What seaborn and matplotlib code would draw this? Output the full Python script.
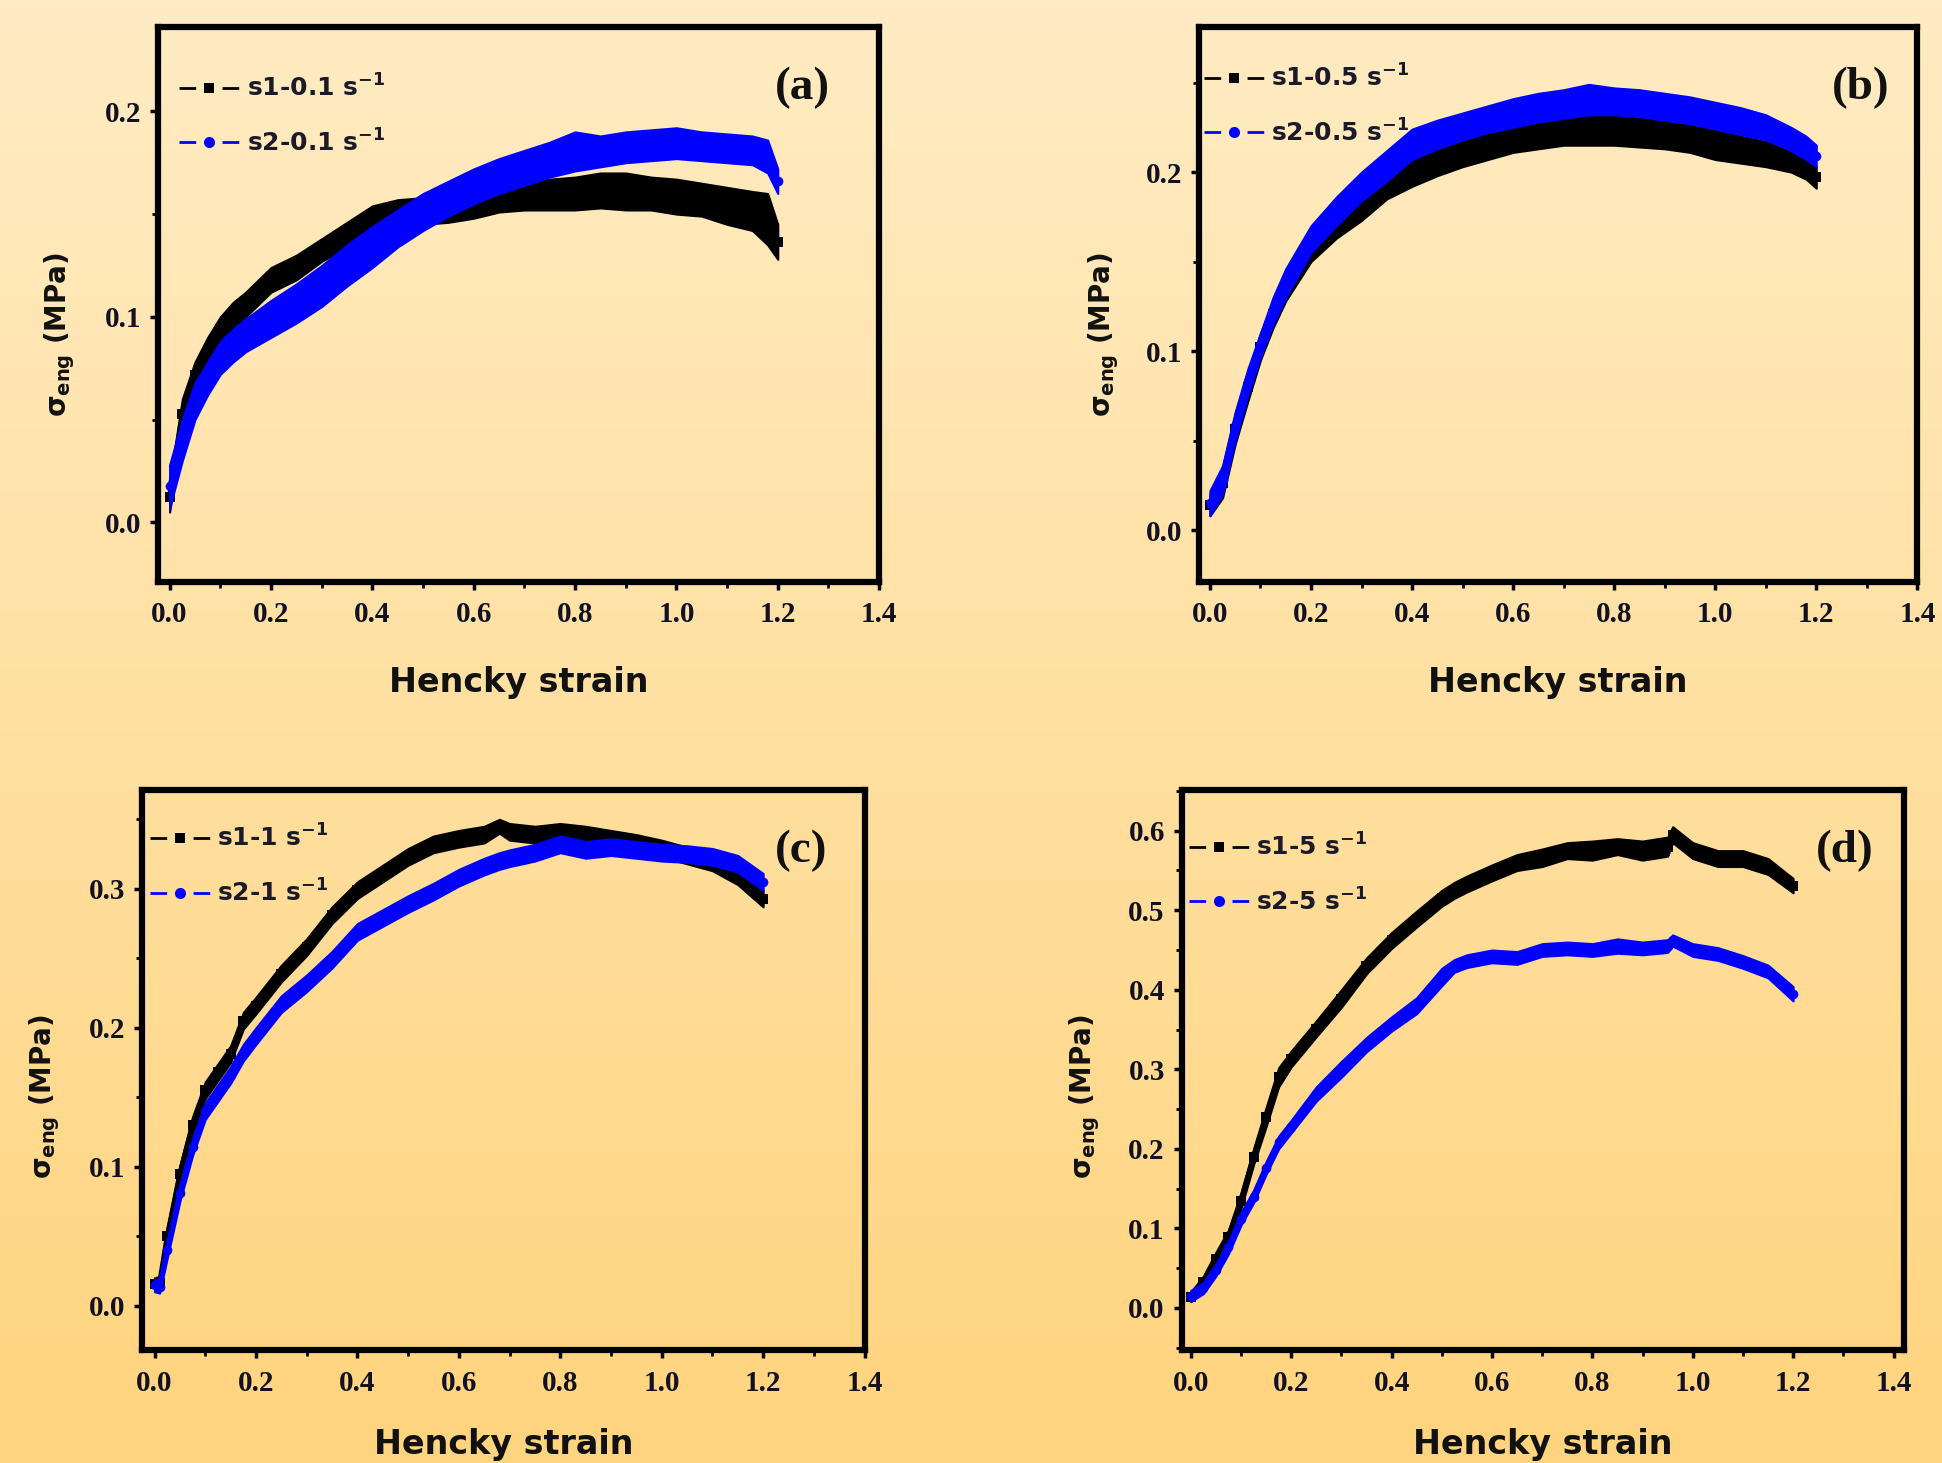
import numpy as np
import pandas as pd
import matplotlib
matplotlib.use("Agg")
import matplotlib.pyplot as plt
import seaborn as sns
from matplotlib.lines import Line2D
from matplotlib.ticker import MultipleLocator, FixedLocator

sns.set_theme(style="ticks")
plt.rcParams["font.family"] = ["DejaVu Sans"]
plt.rcParams["mathtext.fontset"] = "dejavusans"
plt.rcParams["mathtext.default"] = "bf"
plt.rcParams["lines.scale_dashes"] = False

# ---------------- data ----------------
XA = [0.0, 0.025, 0.05, 0.075, 0.1, 0.125, 0.15, 0.2, 0.25, 0.3, 0.35, 0.4, 0.45, 0.5, 0.55,
      0.6, 0.65, 0.7, 0.75, 0.8, 0.85, 0.9, 0.95, 1.0, 1.05, 1.1, 1.15, 1.18, 1.2]
A_S1_LO = [0.005, 0.045, 0.065, 0.078, 0.088, 0.095, 0.100, 0.112, 0.118, 0.127, 0.134, 0.142, 0.146, 0.145, 0.146,
           0.148, 0.151, 0.152, 0.152, 0.152, 0.153, 0.152, 0.152, 0.150, 0.149, 0.145, 0.142, 0.135, 0.128]
A_S1_HI = [0.020, 0.060, 0.078, 0.090, 0.100, 0.107, 0.112, 0.124, 0.130, 0.138, 0.146, 0.154, 0.157, 0.158, 0.158,
           0.160, 0.163, 0.165, 0.167, 0.168, 0.170, 0.170, 0.168, 0.167, 0.165, 0.163, 0.161, 0.160, 0.145]
A_S2_LO = [0.007, 0.030, 0.050, 0.062, 0.072, 0.078, 0.083, 0.090, 0.097, 0.105, 0.115, 0.124, 0.134, 0.142, 0.149,
           0.155, 0.160, 0.164, 0.168, 0.171, 0.173, 0.175, 0.176, 0.177, 0.176, 0.175, 0.174, 0.170, 0.160]
A_S2_HI = [0.028, 0.050, 0.068, 0.078, 0.088, 0.094, 0.099, 0.108, 0.116, 0.125, 0.135, 0.144, 0.152, 0.160, 0.166,
           0.172, 0.177, 0.181, 0.185, 0.190, 0.188, 0.190, 0.191, 0.192, 0.190, 0.189, 0.188, 0.186, 0.172]

XB = XA
B_S1_LO = [0.008, 0.018, 0.048, 0.072, 0.095, 0.113, 0.128, 0.150, 0.163, 0.173, 0.185, 0.192, 0.198, 0.203, 0.207,
           0.211, 0.213, 0.215, 0.215, 0.215, 0.214, 0.213, 0.211, 0.207, 0.205, 0.203, 0.200, 0.196, 0.191]
B_S1_HI = [0.020, 0.035, 0.065, 0.088, 0.110, 0.128, 0.143, 0.165, 0.180, 0.190, 0.200, 0.207, 0.212, 0.218, 0.222,
           0.226, 0.229, 0.231, 0.234, 0.232, 0.230, 0.229, 0.227, 0.224, 0.220, 0.217, 0.212, 0.208, 0.203]
B_S2_LO = [0.008, 0.020, 0.050, 0.075, 0.097, 0.115, 0.130, 0.155, 0.170, 0.184, 0.195, 0.207, 0.213, 0.218, 0.222,
           0.225, 0.228, 0.230, 0.232, 0.232, 0.231, 0.229, 0.227, 0.224, 0.221, 0.218, 0.212, 0.207, 0.203]
B_S2_HI = [0.022, 0.036, 0.066, 0.090, 0.110, 0.130, 0.146, 0.170, 0.186, 0.200, 0.212, 0.224, 0.229, 0.233, 0.237,
           0.241, 0.244, 0.246, 0.249, 0.247, 0.246, 0.244, 0.242, 0.239, 0.236, 0.232, 0.225, 0.220, 0.215]

XC = [0.0, 0.01, 0.025, 0.05, 0.075, 0.1, 0.125, 0.15, 0.175, 0.2, 0.25, 0.3, 0.35, 0.4, 0.45, 0.5,
      0.55, 0.6, 0.65, 0.68, 0.7, 0.75, 0.8, 0.85, 0.9, 0.95, 1.0, 1.05, 1.1, 1.15, 1.2]
C_S1_LO = [0.011, 0.012, 0.044, 0.089, 0.124, 0.149, 0.162, 0.175, 0.199, 0.210, 0.233, 0.252, 0.275, 0.293, 0.305, 0.317,
           0.326, 0.330, 0.333, 0.340, 0.335, 0.333, 0.335, 0.333, 0.330, 0.327, 0.323, 0.318, 0.313, 0.303, 0.287]
C_S1_HI = [0.020, 0.021, 0.056, 0.101, 0.136, 0.161, 0.174, 0.187, 0.211, 0.222, 0.245, 0.264, 0.287, 0.305, 0.317, 0.329,
           0.338, 0.342, 0.345, 0.350, 0.347, 0.345, 0.347, 0.345, 0.342, 0.339, 0.335, 0.330, 0.325, 0.315, 0.299]
C_S2_LO = [0.010, 0.009, 0.034, 0.075, 0.108, 0.134, 0.147, 0.160, 0.176, 0.188, 0.211, 0.226, 0.243, 0.263, 0.273, 0.283,
           0.292, 0.302, 0.310, 0.314, 0.316, 0.320, 0.326, 0.322, 0.324, 0.322, 0.320, 0.319, 0.317, 0.312, 0.299]
C_S2_HI = [0.019, 0.018, 0.046, 0.087, 0.120, 0.146, 0.159, 0.172, 0.188, 0.200, 0.223, 0.238, 0.255, 0.275, 0.285, 0.295,
           0.304, 0.314, 0.322, 0.326, 0.328, 0.332, 0.338, 0.334, 0.336, 0.334, 0.332, 0.331, 0.329, 0.324, 0.311]

XD = [0.0, 0.025, 0.05, 0.075, 0.1, 0.125, 0.15, 0.175, 0.2, 0.25, 0.3, 0.35, 0.4, 0.45, 0.5, 0.525,
      0.55, 0.6, 0.65, 0.7, 0.75, 0.8, 0.85, 0.9, 0.95, 0.96, 1.0, 1.05, 1.1, 1.15, 1.2]
D_S1_LO = [0.008, 0.024, 0.052, 0.080, 0.125, 0.180, 0.228, 0.278, 0.303, 0.341, 0.378, 0.420, 0.452, 0.479, 0.505, 0.515,
           0.523, 0.537, 0.550, 0.555, 0.565, 0.563, 0.570, 0.563, 0.568, 0.585, 0.565, 0.555, 0.555, 0.545, 0.522]
D_S1_HI = [0.020, 0.040, 0.070, 0.098, 0.145, 0.200, 0.252, 0.302, 0.323, 0.361, 0.400, 0.440, 0.472, 0.499, 0.525, 0.535,
           0.543, 0.557, 0.570, 0.577, 0.585, 0.587, 0.590, 0.587, 0.592, 0.605, 0.585, 0.575, 0.575, 0.565, 0.540]
D_S2_LO = [0.008, 0.018, 0.040, 0.068, 0.104, 0.132, 0.168, 0.200, 0.220, 0.260, 0.290, 0.322, 0.348, 0.370, 0.405, 0.422,
           0.428, 0.434, 0.432, 0.442, 0.444, 0.442, 0.446, 0.444, 0.447, 0.455, 0.442, 0.437, 0.427, 0.415, 0.386]
D_S2_HI = [0.022, 0.032, 0.055, 0.084, 0.120, 0.148, 0.184, 0.216, 0.236, 0.278, 0.310, 0.340, 0.366, 0.390, 0.427, 0.438,
           0.444, 0.450, 0.448, 0.458, 0.460, 0.458, 0.464, 0.460, 0.463, 0.469, 0.458, 0.453, 0.443, 0.431, 0.404]

LABELS_A = ["s1-0.1 s$^{-1}$", "s2-0.1 s$^{-1}$"]
LABELS_B = ["s1-0.5 s$^{-1}$", "s2-0.5 s$^{-1}$"]
LABELS_C = ["s1-1 s$^{-1}$", "s2-1 s$^{-1}$"]
LABELS_D = ["s1-5 s$^{-1}$", "s2-5 s$^{-1}$"]
PANEL_TAGS = ["(a)", "(b)", "(c)", "(d)"]

X_TICKS = [0.0, 0.2, 0.4, 0.6, 0.8, 1.0, 1.2, 1.4]
X_TICKLABELS = ["0.0", "0.2", "0.4", "0.6", "0.8", "1.0", "1.2", "1.4"]
Y_TICKS_AB = [0.0, 0.1, 0.2]
Y_TICKLABELS_AB = ["0.0", "0.1", "0.2"]
Y_TICKS_C = [0.0, 0.1, 0.2, 0.3]
Y_TICKLABELS_C = ["0.0", "0.1", "0.2", "0.3"]
Y_TICKS_D = [0.0, 0.1, 0.2, 0.3, 0.4, 0.5, 0.6]
Y_TICKLABELS_D = ["0.0", "0.1", "0.2", "0.3", "0.4", "0.5", "0.6"]

X_LABEL = "Hencky strain"
Y_LABEL = r"$\sigma_{eng}$ (MPa)"

BLACK = "#000000"
BLUE = "#0000FF"

# ---------------- figure ----------------
W, H = 1942, 1463
fig = plt.figure(figsize=(W / 100, H / 100), dpi=100)

bg = fig.add_axes([0, 0, 1, 1], zorder=-10)
top_c = np.array([255, 236, 196]) / 255.0
bot_c = np.array([255, 212, 126]) / 255.0
t = np.linspace(0, 1, 256)[:, None]
grad = top_c[None, :] * (1 - t) + bot_c[None, :] * t
bg.imshow(grad[:, None, :], aspect="auto", extent=[0, 1, 0, 1])
bg.axis("off")

rects = [
    [0.0816, 0.6022, 0.3711, 0.3793],
    [0.6173, 0.6022, 0.3700, 0.3793],
    [0.0733, 0.0772, 0.3719, 0.3827],
    [0.6084, 0.0772, 0.3718, 0.3827],
]
xlims = [(-0.022, 1.4), (-0.022, 1.4), (-0.024, 1.4), (-0.0185, 1.42)]
ylims = [(-0.029, 0.241), (-0.029, 0.281), (-0.032, 0.371), (-0.053, 0.651)]
yticks = [(Y_TICKS_AB, Y_TICKLABELS_AB), (Y_TICKS_AB, Y_TICKLABELS_AB),
          (Y_TICKS_C, Y_TICKLABELS_C), (Y_TICKS_D, Y_TICKLABELS_D)]
series = [
    (XA, A_S1_LO, A_S1_HI, A_S2_LO, A_S2_HI, LABELS_A),
    (XB, B_S1_LO, B_S1_HI, B_S2_LO, B_S2_HI, LABELS_B),
    (XC, C_S1_LO, C_S1_HI, C_S2_LO, C_S2_HI, LABELS_C),
    (XD, D_S1_LO, D_S1_HI, D_S2_LO, D_S2_HI, LABELS_D),
]
legend_anchor = [(0.029, 0.915), (0.007, 0.933), (0.010, 0.938), (0.010, 0.923)]
tag_pos = [(0.893, 0.89), (0.921, 0.89), (0.912, 0.891), (0.918, 0.891)]
ylabel_pos = [(-0.113, 0.446), (-0.108, 0.446), (-0.111, 0.453), (-0.110, 0.453)]
xlabel_pos = [-0.152, -0.152, -0.139, -0.139]


def band(ax, x, lo, hi, color, marker, z):
    df = pd.DataFrame({"strain": list(x) + list(x), "stress": list(lo) + list(hi)})
    sns.lineplot(data=df, x="strain", y="stress", ax=ax, color=color, estimator="mean",
                 errorbar=("pi", 100),
                 err_kws={"alpha": 1.0, "linewidth": 1.5, "edgecolor": color, "zorder": z},
                 linewidth=3.5, marker=marker, markersize=7, markeredgewidth=0, zorder=z + 0.5)


for i, r in enumerate(rects):
    ax = fig.add_axes(r)
    ax.set_facecolor("none")
    x, s1lo, s1hi, s2lo, s2hi, labels = series[i]
    band(ax, x, s1lo, s1hi, BLACK, "s", 2)
    band(ax, x, s2lo, s2hi, BLUE, "o", 4)

    ax.set_xlim(*xlims[i])
    ax.set_ylim(*ylims[i])
    ax.xaxis.set_major_locator(FixedLocator(X_TICKS))
    ax.set_xticklabels(X_TICKLABELS)
    ax.xaxis.set_minor_locator(MultipleLocator(0.1))
    ax.yaxis.set_major_locator(FixedLocator(yticks[i][0]))
    ax.set_yticklabels(yticks[i][1])
    ax.yaxis.set_minor_locator(MultipleLocator(0.05))

    for sp in ax.spines.values():
        sp.set_visible(True)
        sp.set_linewidth(4.5)
        sp.set_color("black")
        sp.set_zorder(10)
    ax.tick_params(which="major", direction="out", length=6, width=2.5, color="black",
                   top=False, right=False)
    ax.tick_params(which="minor", direction="out", length=4, width=2.0, color="black",
                   top=False, right=False)
    ax.tick_params(axis="x", which="major", pad=8)
    ax.tick_params(axis="y", which="major", pad=6)
    for lab in ax.get_xticklabels() + ax.get_yticklabels():
        lab.set_fontfamily("Liberation Serif")
        lab.set_fontweight("bold")
        lab.set_fontsize(21)
        lab.set_color("#111122")

    ax.set_xlabel(X_LABEL, fontsize=24, fontweight="bold", color="#111111")
    ax.xaxis.set_label_coords(0.5, xlabel_pos[i])
    ax.set_ylabel(Y_LABEL, fontsize=20, fontweight="bold", color="#111111")
    ax.yaxis.set_label_coords(*ylabel_pos[i])

    ax.text(tag_pos[i][0], tag_pos[i][1], PANEL_TAGS[i], transform=ax.transAxes,
            ha="center", va="center", fontsize=34, fontweight="bold",
            family="Liberation Serif", color="#111111")

    handles = [
        Line2D([], [], color=BLACK, lw=2, marker="s", markersize=7, markeredgewidth=0,
               linestyle=(0, (12, 19))),
        Line2D([], [], color=BLUE, lw=2, marker="o", markersize=8, markeredgewidth=0,
               linestyle=(0, (12, 19))),
    ]
    leg = ax.legend(handles=handles, labels=labels, loc="upper left",
                    bbox_to_anchor=legend_anchor[i], frameon=False, fontsize=18,
                    handlelength=2.4, handletextpad=0.3, labelspacing=1.1,
                    borderaxespad=0, borderpad=0, numpoints=1)
    leg.set_zorder(20)
    for txt in leg.get_texts():
        txt.set_fontweight("bold")
        txt.set_color("#1a1a2a")

fig.savefig("out.png", dpi=100)
